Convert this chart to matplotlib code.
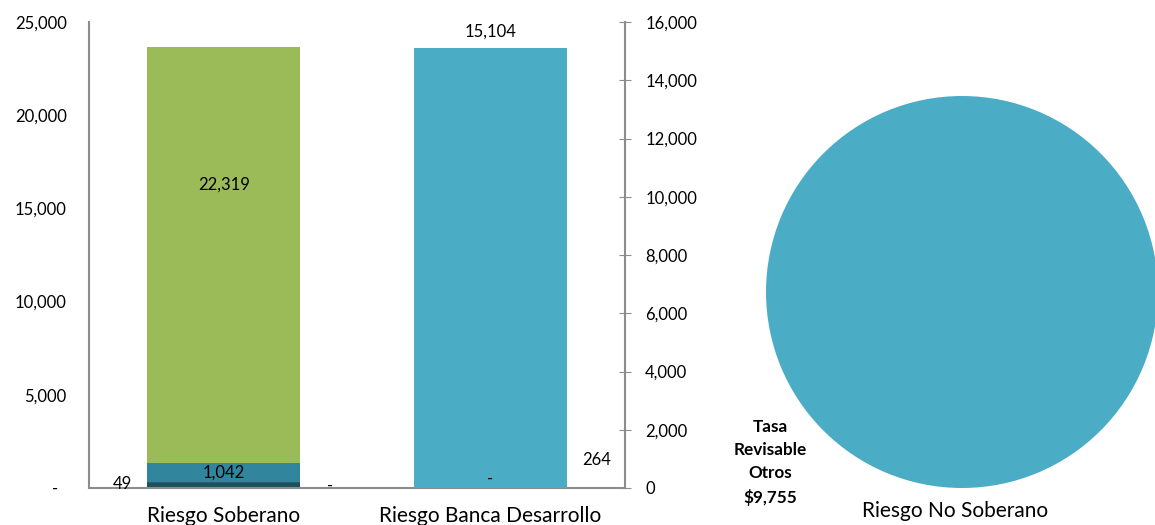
import matplotlib.pyplot as plt
from matplotlib.ticker import FuncFormatter

plt.rcParams['font.family'] = ['Lato', 'DejaVu Sans']

# data
categories = ['Riesgo Soberano', 'Riesgo Banca Desarrollo']
soberano_parts = [264, 49, 1042, 22319]
soberano_colors = ['#1d4f5e', '#235f6f', '#31859c', '#9bbb59']
banca_value = 15104
banca_zero = 0
banca_other = 264
pie_values = [9755]
pie_label = 'Riesgo No Soberano'
pie_text = 'Tasa\nRevisable\nOtros\n$9,755'

gray = '#8c8c8c'

def fmt(v, pos=None):
    if v == 0:
        return '-'
    return f'{v:,.0f}'

fig = plt.figure(figsize=(11.55, 5.25), dpi=100)
ax1 = fig.add_axes([89 / 1155, 37 / 525, 536 / 1155, 466 / 525])
ax2 = ax1.twinx()

# stacked soberano bar on left axis
bottom = 0
for v, c in zip(soberano_parts, soberano_colors):
    ax1.bar(0, v, width=0.574, bottom=bottom, color=c)
    bottom += v

# banca bar on right axis
ax2.bar(1, banca_value, width=0.574, color='#4bacc6')

ax1.set_xlim(-0.505, 1.505)
ax1.set_ylim(0, 25000)
ax2.set_ylim(0, 16000)
ax1.set_yticks(range(0, 25001, 5000))
ax2.set_yticks(range(0, 16001, 2000))
# accounting style: zero shown as a dash, a little left of the numbers
ax1.yaxis.set_major_formatter(FuncFormatter(lambda v, p: fmt(v) + ('  ' if v == 0 else '')))
ax2.yaxis.set_major_formatter(FuncFormatter(lambda v, p: f'{v:,.0f}'))
ax1.set_xticks([0, 1])
ax1.set_xticklabels(categories, fontsize=15)
ax1.tick_params(axis='x', length=0, pad=13)
ax1.tick_params(axis='y', length=0, labelsize=12, pad=16)
ax2.tick_params(axis='y', direction='inout', length=9, color=gray, labelsize=12, pad=10)

for ax in (ax1, ax2):
    ax.spines['top'].set_visible(False)
    for s in ('left', 'right', 'bottom'):
        ax.spines[s].set_color(gray)
        ax.spines[s].set_linewidth(1.5)
ax1.spines['right'].set_visible(False)
ax2.spines['left'].set_visible(False)
ax2.spines['bottom'].set_visible(False)

# data labels
ax1.text(0, 16250, f'{soberano_parts[3]:,}', ha='center', va='center', fontsize=12)
ax1.text(0, 313 + soberano_parts[2] / 2, f'{soberano_parts[2]:,}', ha='center', va='center', fontsize=12)
ax1.text(-0.38, 200, f'{soberano_parts[1]:,}', ha='center', va='center', fontsize=12)
ax1.text(0.40, 100, fmt(banca_zero), ha='center', va='center', fontsize=12)
ax2.text(1, banca_value + 300, f'{banca_value:,}', ha='center', va='bottom', fontsize=12)
ax2.text(1, 300, fmt(banca_zero), ha='center', va='center', fontsize=12)
ax2.text(1.40, 950, f'{banca_other:,}', ha='center', va='center', fontsize=12)

# pie
ax3 = fig.add_axes([766 / 1155, 37 / 525, 392 / 1155, 392 / 525])
ax3.pie(pie_values, colors=['#4bacc6'], radius=1, startangle=90)
ax3.set_xlim(-1, 1)
ax3.set_ylim(-1, 1)
ax3.set_aspect('equal')
fig.text(955 / 1155, 1 - 511 / 525, pie_label, ha='center', va='center', fontsize=15)
fig.text(770 / 1155, 1 - 462 / 525, pie_text, ha='center', va='center', fontsize=12.3,
         fontweight='bold', linespacing=1.55)

fig.savefig('out.png', dpi=100)
